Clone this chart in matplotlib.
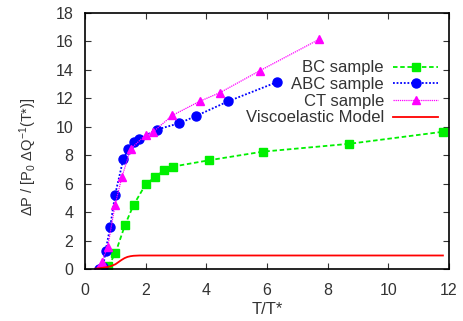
import matplotlib
matplotlib.use("Agg")
import matplotlib.pyplot as plt

plt.rcParams['font.family'] = ['Liberation Sans', 'DejaVu Sans']
plt.rcParams['mathtext.fontset'] = 'custom'
plt.rcParams['mathtext.rm'] = 'Liberation Sans'
plt.rcParams['mathtext.it'] = 'Liberation Sans:italic'
plt.rcParams['mathtext.bf'] = 'Liberation Sans:bold'
plt.rcParams['mathtext.default'] = 'regular'

bc_x = [0.55, 0.77, 1.0, 1.32, 1.6, 2.0, 2.3, 2.6, 2.9, 4.1, 5.86, 8.7, 11.8]
bc_y = [0.0, 0.2, 1.1, 3.1, 4.5, 5.95, 6.45, 6.95, 7.2, 7.65, 8.25, 8.8, 9.65]

abc_x = [0.45, 0.6, 0.68, 0.83, 0.99, 1.26, 1.42, 1.6, 1.79, 2.36, 3.11, 3.65, 4.73, 6.34]
abc_y = [0.0, 0.15, 1.3, 2.95, 5.2, 7.7, 8.45, 8.95, 9.15, 9.8, 10.25, 10.75, 11.8, 13.15]

ct_x = [0.44, 0.55, 0.75, 0.99, 1.22, 1.51, 2.01, 2.25, 2.88, 3.79, 4.45, 5.77, 7.72]
ct_y = [0.0, 0.5, 1.55, 4.5, 6.5, 8.45, 9.45, 9.65, 10.8, 11.8, 12.4, 13.95, 16.15]

ve_x = [0.33, 0.5, 0.7, 0.85, 1.0, 1.1, 1.2, 1.3, 1.4, 1.5, 1.6, 1.8, 2.0, 4.0, 11.8]
ve_y = [0.02, 0.06, 0.12, 0.2, 0.33, 0.48, 0.63, 0.76, 0.85, 0.9, 0.93, 0.95, 0.95, 0.95, 0.95]

xticks = [0, 2, 4, 6, 8, 10, 12]
yticks = [0, 2, 4, 6, 8, 10, 12, 14, 16, 18]

fs = 12
tc = '#333333'

fig = plt.figure(figsize=(4.63, 3.21), dpi=100)
ax = fig.add_axes([85/463, 52/321, 364/463, 256/321])

ax.plot(bc_x, bc_y, color='#00f000', linestyle=(0, (2.5, 1.5)), linewidth=1.3,
        marker='s', markersize=6, label='BC sample')
ax.plot(abc_x, abc_y, color='#0000ff', linestyle=(0, (1, 1)), linewidth=1.3,
        marker='o', markersize=6.5, label='ABC sample')
ax.plot(ct_x, ct_y, color='#ff00ff', linestyle=(0, (1, 0.7)), linewidth=0.9,
        marker='^', markersize=6, label='CT sample')
ax.plot(ve_x, ve_y, color='#ff0000', linestyle='-', linewidth=1.3,
        label='Viscoelastic Model')

ax.set_xlim(0, 12)
ax.set_ylim(0, 18)
ax.set_xticks(xticks)
ax.set_yticks(yticks)
ax.tick_params(direction='in', length=4, top=True, right=True, labelsize=11.5,
               colors=tc, labelcolor=tc)
ax.tick_params(axis='x', pad=10)
ax.tick_params(axis='y', pad=8.5)
for s in ax.spines.values():
    s.set_linewidth(1.2)
ax.set_xlabel('T/T*', fontsize=fs, color=tc, labelpad=3)
ax.set_ylabel(r'ΔP / [P$_0$ ΔQ$^{-1}$(T*)]', fontsize=10.5, color=tc, labelpad=12)
ax.yaxis.label.set_y(0.44)

leg = ax.legend(loc='upper right', bbox_to_anchor=(0.97, 0.815), markerfirst=False,
                frameon=False, fontsize=fs, handlelength=2.7, handletextpad=0.55,
                labelspacing=0.1, borderpad=0, borderaxespad=0, alignment='right')
for t in leg.get_texts():
    t.set_color(tc)
    t.set_horizontalalignment('right')

fig.savefig('out.png', dpi=100)
